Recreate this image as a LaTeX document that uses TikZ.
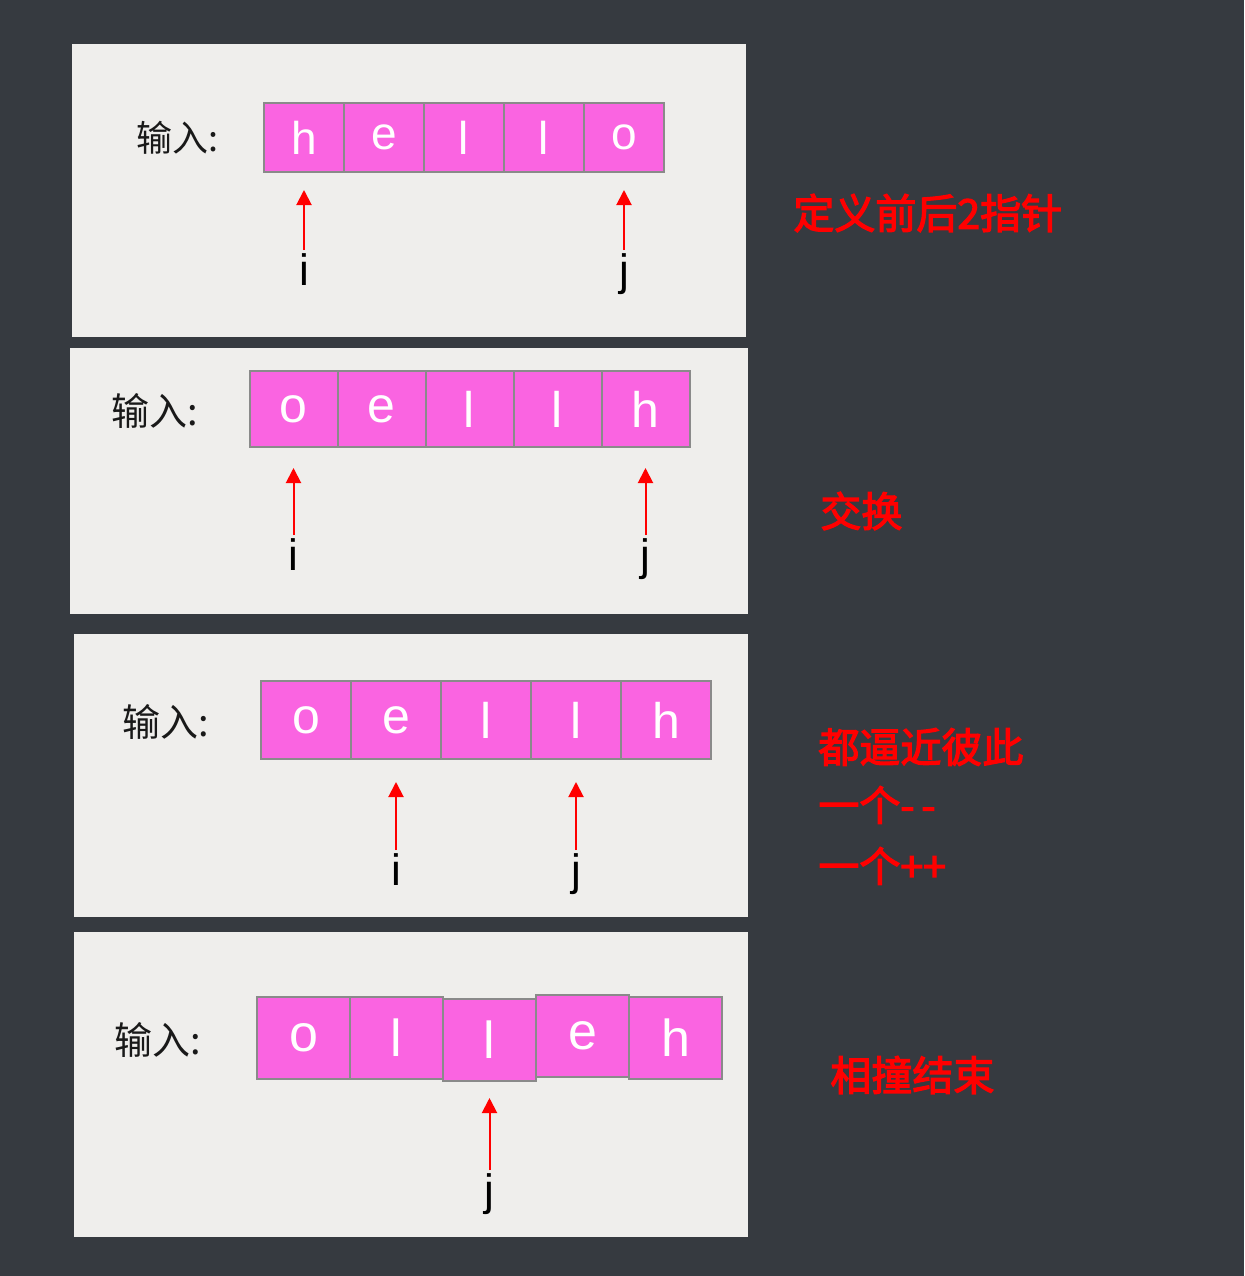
\documentclass[tikz,border=0pt]{standalone}
\usepackage{fontspec}
\setmainfont{Liberation Sans}
\newfontfamily\cjk{Noto Sans CJK SC}
\newfontfamily\cjknote[FakeBold=3]{Noto Sans CJK SC}
\usetikzlibrary{positioning, arrows.meta}
\definecolor{bgdark}{RGB}{54,58,64}
\definecolor{paper}{RGB}{239,238,236}
\definecolor{cellpink}{RGB}{250,100,225}
\definecolor{cellline}{RGB}{138,138,138}

\begin{document}
\begin{tikzpicture}[
    x=0.5pt, y=-0.5pt,
    panel/.style={fill=paper},
    cell/.style={draw=cellline, line width=1pt, fill=cellpink, text=white, inner sep=0pt, outer sep=0pt},
    cellsize/.style 2 args={minimum width=#1, minimum height=#2},
    inlabel/.style={font=\cjk\fontsize{18}{18}\selectfont, text=black!90, inner sep=0pt},
    ptrlabel/.style={font=\fontsize{22}{22}\selectfont, text=black, inner sep=0pt, text height=15.8pt, text depth=4.6pt},
    note/.style={font=\cjknote\fontsize{20.5}{20.5}\selectfont, text=red, inner sep=0pt, anchor=west},
    ptr/.style={-{Triangle[length=7.5pt, width=7.5pt]}, red, line width=1pt, shorten <=1.5pt}
]
    \fill[bgdark] (0,0) rectangle (1244,1276);

    % Step 1: two pointers at both ends
    \fill[panel] (72,44) rectangle (746,337);
    \node[inlabel] (in1) at (178,138) {输入:};
    \begin{scope}[font=\fontsize{23}{23}\selectfont]
        \node[cell, cellsize={40pt}{34.5pt}] (a1) at (304,137.5) {h};
        \node[cell, cellsize={40pt}{34.5pt}] (a2) [right=0pt of a1] {e};
        \node[cell, cellsize={40pt}{34.5pt}] (a3) [right=0pt of a2] {l};
        \node[cell, cellsize={40pt}{34.5pt}] (a4) [right=0pt of a3] {l};
        \node[cell, cellsize={40pt}{34.5pt}] (a5) [right=0pt of a4] {o};
    \end{scope}
    \node[ptrlabel] (ai) [below=40.5pt of a1] {i};
    \node[ptrlabel] (aj) [below=40.5pt of a5] {j};
    \draw[ptr, shorten >=9pt] (ai) -- (a1);
    \draw[ptr, shorten >=9pt] (aj) -- (a5);
    \node[note] (t1) at (793,213) {定义前后2指针};

    % Step 2: swap
    \fill[panel] (70,348) rectangle (748,614);
    \node[inlabel, font=\cjk\fontsize{19}{19}\selectfont] (in2) at (155,411) {输入:};
    \begin{scope}[font=\fontsize{25}{25}\selectfont]
        \node[cell, cellsize={44pt}{38pt}] (b1) at (293.5,409) {o};
        \node[cell, cellsize={44pt}{38pt}] (b2) [right=0pt of b1] {e};
        \node[cell, cellsize={44pt}{38pt}] (b3) [right=0pt of b2] {l};
        \node[cell, cellsize={44pt}{38pt}] (b4) [right=0pt of b3] {l};
        \node[cell, cellsize={44pt}{38pt}] (b5) [right=0pt of b4] {h};
    \end{scope}
    \node[ptrlabel] (bi) [below=45.5pt of b1] {i};
    \node[ptrlabel] (bj) [below=45.5pt of b5] {j};
    \draw[ptr, shorten >=10.5pt] (bi) -- (b1);
    \draw[ptr, shorten >=10.5pt] (bj) -- (b5);
    \node[note] (t2) at (820,511) {交换};

    % Step 3: move towards each other
    \fill[panel] (74,634) rectangle (748,917);
    \node[inlabel, font=\cjk\fontsize{19}{19}\selectfont] (in3) at (166,722) {输入:};
    \begin{scope}[font=\fontsize{25}{25}\selectfont]
        \node[cell, cellsize={45pt}{39pt}] (c1) at (306,720) {o};
        \node[cell, cellsize={45pt}{39pt}] (c2) [right=0pt of c1] {e};
        \node[cell, cellsize={45pt}{39pt}] (c3) [right=0pt of c2] {l};
        \node[cell, cellsize={45pt}{39pt}] (c4) [right=0pt of c3] {l};
        \node[cell, cellsize={45pt}{39pt}] (c5) [right=0pt of c4] {h};
    \end{scope}
    \node[ptrlabel] (ci) [below=47pt of c2] {i};
    \node[ptrlabel] (cj) [below=47pt of c4] {j};
    \draw[ptr, shorten >=11.5pt] (ci) -- (c2);
    \draw[ptr, shorten >=11.5pt] (cj) -- (c4);
    \node[note] (t3) at (818,747) {都逼近彼此};
    \node[note] (t4) at (818,805) {一个-\,-};
    \node[note] (t5) at (818,866) {一个++};

    % Step 4: pointers meet
    \fill[panel] (74,932) rectangle (748,1237);
    \node[inlabel, font=\cjk\fontsize{19}{19}\selectfont] (in4) at (158,1040) {输入:};
    \begin{scope}[font=\fontsize{26}{26}\selectfont]
        \node[cell, cellsize={46.5pt}{41pt}] (d1) at (303.5,1038) {o};
        \node[cell, cellsize={46.5pt}{41pt}] (d2) [right=0pt of d1] {l};
        \node[cell, cellsize={46.5pt}{41pt}] (d3) [right=0pt of d2, yshift=-1pt] {l};
        \node[cell, cellsize={46.5pt}{41pt}] (d4) [right=0pt of d3, yshift=2pt] {e};
        \node[cell, cellsize={46.5pt}{41pt}] (d5) [right=0pt of d4, yshift=-1pt] {h};
    \end{scope}
    \node[ptrlabel] (dj) [below=46pt of d3] {j};
    \draw[ptr, shorten >=8.5pt] (dj) -- (d3);
    \node[note] (t6) at (830,1075) {相撞结束};
\end{tikzpicture}
\end{document}
